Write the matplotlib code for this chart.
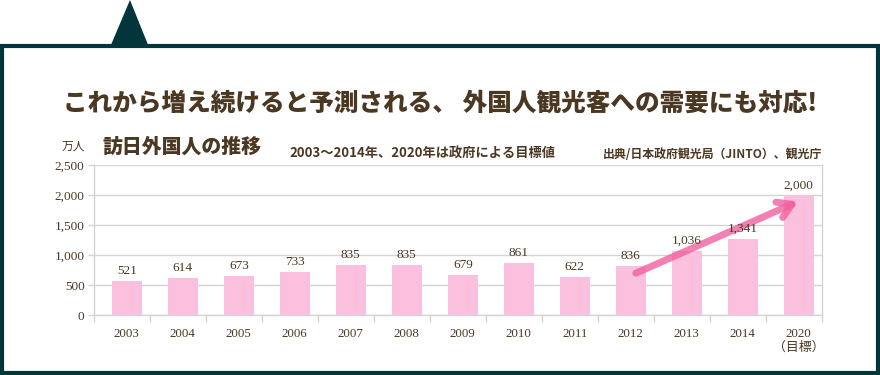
import matplotlib
matplotlib.use("Agg")
import matplotlib.pyplot as plt
from matplotlib.patches import Polygon, Rectangle
from matplotlib.ticker import FixedLocator, FuncFormatter

# ---------------- data ----------------
years = ["2003", "2004", "2005", "2006", "2007", "2008", "2009",
         "2010", "2011", "2012", "2013", "2014", "2020\n（目標）"]
bar_values = [577, 627, 660, 727, 843, 843, 677, 877, 643, 827, 1077, 1277, 2000]
value_labels = ["521", "614", "673", "733", "835", "835", "679",
                "861", "622", "836", "1,036", "1,341", "2,000"]
y_ticks = [0, 500, 1000, 1500, 2000, 2500]

title = "これから増え続けると予測される、 外国人観光客への需要にも対応!"
chart_title = "訪日外国人の推移"
subtitle = "2003～2014年、2020年は政府による目標値"
source = "出典/日本政府観光局（JINTO）、観光庁"
unit = "万人"

# ---------------- style ----------------
W, H = 880, 375
DPI = 100
frame_col = "#03363a"
brown = "#4b3822"
bar_col = "#fcc0df"
grid_col = "#d4d4d4"
arrow_col = "#f0609f"
cjk = ["Noto Sans CJK JP", "DejaVu Sans"]
serif = ["Liberation Serif", "Noto Sans CJK JP"]
shift = 0.08  # bars sit slightly right of category centres

fig = plt.figure(figsize=(W / DPI, H / DPI), dpi=DPI)
fig.patch.set_facecolor("white")

def fx(px):
    return px / W

def fy(py):
    return 1 - py / H

# frame and triangle
fig.patches.append(Rectangle((fx(1.5), fy(373)), fx(876.5), fy(46) - fy(373),
                             transform=fig.transFigure, fill=False,
                             edgecolor=frame_col, linewidth=3.0))
fig.patches.append(Polygon([(fx(110.5), fy(46)), (fx(130), fy(0)), (fx(148.5), fy(46))],
                           closed=True, transform=fig.transFigure,
                           facecolor=frame_col, edgecolor="none"))

# texts
fig.text(fx(440), fy(103), title, ha="center", va="center", fontsize=17.7,
         fontweight="heavy", color=brown, family=cjk)
fig.text(fx(102), fy(147), chart_title, ha="left", va="center", fontsize=14.3,
         fontweight="heavy", color=brown, family=cjk)
fig.text(fx(289), fy(154), subtitle, ha="left", va="center", fontsize=9.5,
         fontweight="bold", color=brown, family=cjk)
fig.text(fx(822), fy(154), source, ha="right", va="center", fontsize=8.6,
         fontweight="bold", color=brown, family=cjk)
fig.text(fx(73), fy(146), unit, ha="center", va="center", fontsize=8.5,
         color=brown, family=cjk)

# axes
left, right, top, bottom = 94.3, 822.3, 165.0, 315.3
ax = fig.add_axes([fx(left), fy(bottom), fx(right - left), fy(top) - fy(bottom)])
ax.set_facecolor("none")

x = [i + shift for i in range(len(years))]
ax.bar(x, bar_values, width=0.536, color=bar_col, zorder=2)

ax.set_xlim(-0.5, len(years) - 0.5)
ax.set_ylim(0, 2500)

ax.yaxis.set_major_locator(FixedLocator(y_ticks))
ax.yaxis.set_major_formatter(FuncFormatter(lambda v, p: f"{int(v):,}"))
ax.grid(axis="y", color=grid_col, linewidth=1.0, zorder=0)
ax.set_axisbelow(True)

ax.xaxis.set_major_locator(FixedLocator([i - 0.5 for i in range(len(years) + 1)]))
ax.xaxis.set_major_formatter(FuncFormatter(lambda v, p: ""))
ax.xaxis.set_minor_locator(FixedLocator(x))
ax.set_xticklabels(years, minor=True)
ax.tick_params(axis="x", which="major", length=5, color=grid_col, width=1)
ax.tick_params(axis="x", which="minor", length=0, pad=9.0)
ax.tick_params(axis="y", length=4.5, color=grid_col, width=1, pad=2.5)
for lbl in ax.get_xticklabels(minor=True):
    lbl.set_fontfamily(serif)
    lbl.set_fontsize(9.3)
    lbl.set_color(brown)
    lbl.set_linespacing(1.2)
    lbl.set_va("top")
for lbl in ax.get_yticklabels():
    lbl.set_fontfamily(serif)
    lbl.set_fontsize(9.5)
    lbl.set_color(brown)

ax.spines["top"].set_visible(False)
for s in ["left", "bottom", "right"]:
    ax.spines[s].set_color(grid_col)
    ax.spines[s].set_linewidth(1.0)
ax.spines["left"].set_bounds(0, 2500)

# value labels
for xi, v, lab in zip(x, bar_values, value_labels):
    ax.annotate(lab, (xi, v), xytext=(0, 6.8), textcoords="offset points",
                ha="center", va="center", fontsize=9.5, color=brown,
                family=serif, zorder=4)

# trend arrow
ax.annotate("", xy=(12.07, 1893), xytext=(9.17, 700),
            arrowprops=dict(arrowstyle="->,head_length=1.0,head_width=0.6",
                            color=arrow_col, lw=5, alpha=0.8,
                            shrinkA=0, shrinkB=0),
            zorder=3)

fig.savefig("out.png", dpi=DPI)
